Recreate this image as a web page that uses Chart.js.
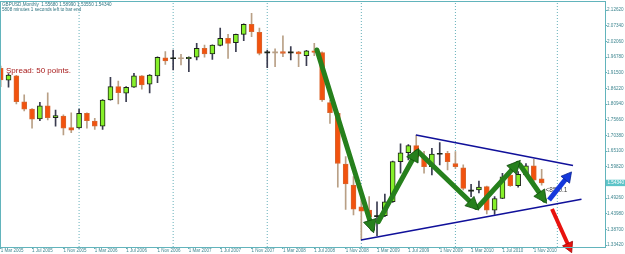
<!DOCTYPE html>
<html><head><meta charset="utf-8">
<script src="https://cdn.jsdelivr.net/npm/chart.js@4.4.0/dist/chart.umd.min.js"></script>
<style>html,body{margin:0;padding:0;background:#fff;overflow:hidden}</style>
</head><body>
<canvas id="c" width="625" height="254" style="width:625px;height:254px;display:block"></canvas>
<script>
// ---- categories (monthly bars) ----
const months = [
 'Mar 2005','Apr 2005','May 2005','Jun 2005','Jul 2005','Aug 2005','Sep 2005','Oct 2005','Nov 2005','Dec 2005',
 'Jan 2006','Feb 2006','Mar 2006','Apr 2006','May 2006','Jun 2006','Jul 2006','Aug 2006','Sep 2006','Oct 2006','Nov 2006','Dec 2006',
 'Jan 2007','Feb 2007','Mar 2007','Apr 2007','May 2007','Jun 2007','Jul 2007','Aug 2007','Sep 2007','Oct 2007','Nov 2007','Dec 2007',
 'Jan 2008','Feb 2008','Mar 2008','Apr 2008','May 2008','Jun 2008','Jul 2008','Aug 2008','Sep 2008','Oct 2008','Nov 2008','Dec 2008',
 'Jan 2009','Feb 2009','Mar 2009','Apr 2009','May 2009','Jun 2009','Jul 2009','Aug 2009','Sep 2009','Oct 2009','Nov 2009','Dec 2009',
 'Jan 2010','Feb 2010','Mar 2010','Apr 2010','May 2010','Jun 2010','Jul 2010','Aug 2010','Sep 2010','Oct 2010','Nov 2010','Dec 2010'];

// ---- OHLC series ----
const openP = [1.930,1.890,1.904,1.817,1.792,1.759,1.803,1.763,1.769,1.730,
 1.729,1.778,1.752,1.735,1.823,1.868,1.846,1.866,1.904,1.876,1.904,1.965,
 1.962,1.964,1.962,1.967,1.997,1.978,2.007,2.031,2.016,2.044,2.078,2.051,
 1.982,1.984,1.986,1.982,1.985,1.972,1.989,1.983,1.814,1.778,1.607,1.536,
 1.463,1.452,1.430,1.433,1.480,1.615,1.645,1.669,1.630,1.598,1.640,1.643,
 1.609,1.594,1.516,1.520,1.531,1.452,1.491,1.570,1.534,1.570,1.601,1.5568];
const highP = [1.937,1.912,1.906,1.840,1.794,1.815,1.847,1.789,1.773,1.780,
 1.792,1.780,1.761,1.824,1.899,1.887,1.868,1.913,1.905,1.909,1.968,1.986,
 1.991,1.977,1.968,2.014,2.008,2.009,2.065,2.044,2.045,2.080,2.115,2.065,
 1.991,1.995,2.039,2.003,1.987,1.990,2.014,1.985,1.823,1.780,1.632,1.565,
 1.508,1.497,1.480,1.506,1.617,1.675,1.673,1.705,1.650,1.660,1.679,1.650,
 1.649,1.604,1.539,1.550,1.533,1.497,1.576,1.598,1.582,1.609,1.623,1.589];
const lowP = [1.868,1.866,1.810,1.786,1.728,1.753,1.756,1.735,1.705,1.713,
 1.727,1.728,1.724,1.724,1.822,1.810,1.817,1.865,1.859,1.847,1.881,1.943,
 1.924,1.941,1.918,1.958,1.967,1.960,2.005,1.963,1.986,2.023,2.036,1.975,
 1.932,1.935,1.969,1.958,1.935,1.939,1.972,1.818,1.744,1.529,1.454,1.436,
 1.351,1.398,1.366,1.430,1.478,1.576,1.621,1.623,1.576,1.570,1.604,1.587,
 1.592,1.520,1.497,1.510,1.439,1.437,1.490,1.532,1.529,1.567,1.547,1.5355];
const closeP = [1.891,1.907,1.817,1.792,1.758,1.803,1.763,1.770,1.728,1.721,
 1.778,1.753,1.735,1.823,1.868,1.848,1.866,1.904,1.874,1.907,1.967,1.955,
 1.964,1.962,1.967,1.997,1.978,2.008,2.031,2.014,2.044,2.078,2.053,1.980,
 1.984,1.982,1.980,1.984,1.978,1.989,1.983,1.823,1.780,1.609,1.540,1.455,
 1.448,1.430,1.433,1.480,1.615,1.645,1.669,1.630,1.598,1.641,1.642,1.615,
 1.598,1.525,1.518,1.529,1.452,1.491,1.564,1.534,1.572,1.601,1.553,1.5434];

// ---- axis tick labels ----
const xTickIdx = [0,4,8,12,16,20,24,28,32,36,40,44,48,52,56,60,64,68];
const xTickLabels = ['1 Mar 2005','1 Jul 2005','1 Nov 2005','1 Mar 2006','1 Jul 2006','1 Nov 2006',
 '1 Mar 2007','1 Jul 2007','1 Nov 2007','1 Mar 2008','1 Jul 2008','1 Nov 2008',
 '1 Mar 2009','1 Jul 2009','1 Nov 2009','1 Mar 2010','1 Jul 2010','1 Nov 2010'];
const yTicks = [2.12620,2.07340,2.02060,1.96780,1.91500,1.86220,1.80940,1.75660,1.70380,
 1.65100,1.59820,1.49260,1.43980,1.38700,1.33420];
const currentPrice = 1.54340;

// ---- period separators (bar index of each new year) ----
const separators = [10,22,34,46,58,71];

// ---- drawn objects (bar index, price) ----
const greenArrows = [
 [[40.34,1.9914],[47.42,1.3881]],
 [[48.17,1.4127],[53.06,1.6476]],
 [[53.27,1.6487],[60.62,1.4612]],
 [[60.92,1.4633],[65.94,1.6095]],
 [[66.24,1.6038],[69.34,1.4858]]];
const upperTrend = [[52.97,1.7049],[73.0,1.6021]];
const lowerTrend = [[45.96,1.3510],[74.08,1.4882]];
const blueArrow = [[69.94,1.4858],[72.49,1.5700]];
const redArrow = [[70.32,1.4555],[72.62,1.3207]];

const headerLine1 = 'GBPUSD,Monthly  1.55680 1.58990 1.53550 1.54340';
const headerLine2 = '5808 minutes 1 seconds left to bar end';
const spreadText = 'Spread: 50 points.';
const noteText = '<85 0.1';

// ---- styling / layout ----
const yMin = 1.32746, yMax = 2.1522;
const FONT = '"Liberation Sans", Arial, sans-serif';
const TEAL = '#62b4bc';
const LABEL = '#3f8690';
const BULL_FILL = '#86f02a', BULL_LINE = '#1c2418', BULL_WICK = '#3a3c50';
const BEAR_FILL = '#f2520e', BEAR_LINE = '#d8662e', BEAR_WICK = '#b9a086';
const isBull = i => closeP[i] >= openP[i];
const isDoji = i => Math.abs(closeP[i] - openP[i]) < 0.004;
const pts = arr => arr.map(p => ({x: p[0], y: p[1]}));

const datasets = [];
separators.forEach(s => datasets.push({
  type: 'line', data: [{x: s, y: yMin}, {x: s, y: yMax}],
  borderColor: '#66b0ba', borderWidth: 1, borderDash: [1, 2], pointRadius: 0, order: 20
}));
datasets.push({
  type: 'bar', label: 'wick', grouped: false, barThickness: 1, order: 6,
  data: months.map((m, i) => ({x: i, y: [lowP[i], highP[i]]})),
  backgroundColor: c => isBull(c.dataIndex) ? BULL_WICK : BEAR_WICK
});
datasets.push({
  type: 'bar', label: 'body', grouped: false, barThickness: 5, order: 5, minBarLength: 1,
  borderSkipped: false,
  data: months.map((m, i) => ({x: i, y: [openP[i], closeP[i]]})),
  backgroundColor: c => isDoji(c.dataIndex) ? (isBull(c.dataIndex) ? BULL_LINE : BEAR_WICK) : (isBull(c.dataIndex) ? BULL_FILL : BEAR_FILL),
  borderColor: c => isBull(c.dataIndex) ? BULL_LINE : BEAR_LINE,
  borderWidth: c => isDoji(c.dataIndex) ? 0 : 1
});
[upperTrend, lowerTrend].forEach(t => datasets.push({
  type: 'line', data: pts(t), borderColor: '#10109a', borderWidth: 1.6, pointRadius: 0, order: 3
}));
greenArrows.forEach(a => datasets.push({
  type: 'line', data: pts(a), borderColor: '#26801c', borderWidth: 5, pointRadius: 0, order: 1,
  borderCapStyle: 'round', arrowHead: {len: 13, half: 6.5, fill: '#26801c', stroke: '#114a0e'}
}));
datasets.push({
  type: 'line', data: pts(blueArrow), borderColor: '#1538dc', borderWidth: 5, pointRadius: 0, order: 0,
  arrowHead: {len: 10, half: 5.5, fill: '#1538dc', stroke: '#0c2490'}
});
datasets.push({
  type: 'line', data: pts(redArrow), borderColor: '#e8120e', borderWidth: 4, pointRadius: 0, order: 0, clip: 12,
  arrowHead: {len: 10, half: 5.5, fill: '#e8120e', stroke: '#a00808'}
});

const deco = {
  id: 'deco',
  beforeDatasetsDraw(chart) {
    const {ctx, scales} = chart;
    ctx.save();
    ctx.font = '8px ' + FONT;
    ctx.fillStyle = '#a81c1c';
    ctx.textBaseline = 'middle';
    ctx.fillText(spreadText, 6, 71);
    ctx.font = '6.5px ' + FONT;
    ctx.fillStyle = '#404040';
    ctx.fillText(noteText, scales.x.getPixelForValue(69.5), scales.y.getPixelForValue(1.5200));
    ctx.restore();
  },
  afterDatasetDraw(chart, args) {
    const ds = chart.data.datasets[args.index];
    if (!ds.arrowHead) return;
    const d = args.meta.data;
    const p0 = d[d.length - 2], p1 = d[d.length - 1];
    const dx = p1.x - p0.x, dy = p1.y - p0.y, L = Math.hypot(dx, dy);
    const ux = dx / L, uy = dy / L, nx = -uy, ny = ux;
    const h = ds.arrowHead;
    const tx = p1.x + ux * 4, ty = p1.y + uy * 4;
    const bx = tx - ux * h.len, by = ty - uy * h.len;
    const ctx = chart.ctx;
    ctx.save();
    ctx.beginPath();
    ctx.moveTo(tx, ty);
    ctx.lineTo(bx + nx * h.half, by + ny * h.half);
    ctx.lineTo(bx - nx * h.half, by - ny * h.half);
    ctx.closePath();
    ctx.fillStyle = h.fill; ctx.fill();
    ctx.lineWidth = 0.8; ctx.strokeStyle = h.stroke; ctx.stroke();
    ctx.restore();
  },
  afterDraw(chart) {
    const {ctx, chartArea: a, scales} = chart;
    ctx.save();
    ctx.strokeStyle = TEAL; ctx.lineWidth = 1;
    ctx.strokeRect(Math.round(a.left) - 0.5, Math.round(a.top) - 0.5, Math.round(a.right - a.left) + 1, Math.round(a.bottom - a.top) + 1);
    // current price label
    const py = scales.y.getPixelForValue(currentPrice);
    ctx.fillStyle = '#5cc4c8';
    ctx.fillRect(a.right + 1, py - 3.2, 20, 6.4);
    ctx.fillStyle = '#ffffff';
    ctx.font = '4.6px ' + FONT;
    ctx.textBaseline = 'middle';
    ctx.fillText(currentPrice.toFixed(5), a.right + 2.5, py);
    // header
    ctx.fillStyle = '#2f7480';
    ctx.font = '4.6px ' + FONT;
    ctx.fillText(headerLine1, 2, 5.2);
    ctx.fillText(headerLine2, 2, 9.6);
    ctx.restore();
  }
};

new Chart(document.getElementById('c'), {
  type: 'bar',
  data: {datasets},
  options: {
    responsive: false, animation: false, devicePixelRatio: 1,
    layout: {padding: {top: 2, left: 1, right: 0, bottom: 0}},
    plugins: {legend: {display: false}, tooltip: {enabled: false}},
    scales: {
      x: {
        type: 'linear', position: 'bottom', min: 0.04, max: 77.08, offset: false,
        afterFit: s => { s.height = 7; },
        afterBuildTicks: s => { s.ticks = xTickIdx.map(v => ({value: v})); },
        ticks: {
          autoSkip: false, maxRotation: 0, minRotation: 0, align: 'start', padding: 0,
          color: LABEL, font: {size: 4.5, family: FONT, lineHeight: 1},
          callback: v => { const k = xTickIdx.indexOf(v); return k >= 0 ? xTickLabels[k] : ''; }
        },
        grid: {drawOnChartArea: false, drawTicks: true, tickLength: 2, color: TEAL, offset: false},
        border: {display: false}
      },
      y: {
        type: 'linear', position: 'right', min: yMin, max: yMax,
        afterFit: s => { s.width = 20; },
        afterBuildTicks: s => { s.ticks = yTicks.map(v => ({value: v})); },
        ticks: {
          padding: 0, color: LABEL, font: {size: 4.6, family: FONT, lineHeight: 1},
          callback: v => Number(v).toFixed(5)
        },
        grid: {drawOnChartArea: false, drawTicks: true, tickLength: 2, color: TEAL},
        border: {display: false}
      }
    }
  },
  plugins: [deco]
});
</script>
</body></html>
